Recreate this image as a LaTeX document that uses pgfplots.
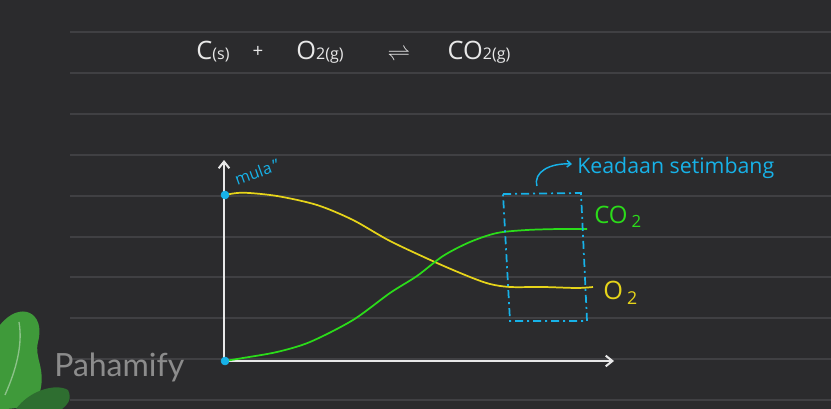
\documentclass[border=0pt]{standalone}
\usepackage{pgfplots}
\pgfplotsset{compat=1.18}
\usetikzlibrary{arrows.meta}
\usepackage{fontspec}
\setmainfont{Open Sans}
\newfontfamily\logofont{Lato}
\definecolor{bg}{HTML}{2B2B2D}
\definecolor{rule}{HTML}{404043}
\definecolor{cy}{HTML}{17B2E8}
\definecolor{yl}{HTML}{E6D41A}
\definecolor{gr}{HTML}{2BDC1A}
\definecolor{wh}{HTML}{E8E8E8}
\definecolor{logo}{HTML}{8C8C8C}
\definecolor{leafA}{HTML}{3F9A3A}
\definecolor{leafB}{HTML}{2E6E30}
\begin{document}
\begin{tikzpicture}
\begin{axis}[
  scale only axis, width=623.25pt, height=306.75pt,
  xmin=0, xmax=831, ymin=0, ymax=409, y dir=reverse,
  axis line style={draw=none}, ticks=none,
  axis background/.style={fill=bg},
]
% ruled lines
\foreach \yy in {32,73,114,155,196,237,277,318,359,400}{
  \edef\tmp{\noexpand\draw[rule, line width=1.2pt] (axis cs:70,\yy) -- (axis cs:831,\yy);}\tmp
}
% leaves
\fill[leafA] (axis cs:0,325) .. controls (axis cs:20,300) and (axis cs:46,312) .. (axis cs:38,342)
  .. controls (axis cs:34,358) and (axis cs:46,368) .. (axis cs:40,392)
  .. controls (axis cs:32,409) and (axis cs:10,409) .. (axis cs:0,409) -- cycle;
\fill[leafB] (axis cs:16,409) .. controls (axis cs:30,390) and (axis cs:56,383) .. (axis cs:68,390)
  .. controls (axis cs:73,400) and (axis cs:66,406) .. (axis cs:62,409) -- cycle;
\draw[leafA!60!white, line width=1pt] (axis cs:19,322) .. controls (axis cs:23,345) and (axis cs:16,370) .. (axis cs:5,395);
% logo
\node[logo, anchor=west, inner sep=0pt] at (axis cs:54,367) {\logofont\fontsize{24}{26}\selectfont Pahamify};
% title
\node[wh] at (axis cs:213,52) {\fontsize{19}{22}\selectfont C\fontsize{12}{14}\selectfont(s)};
\node[wh] at (axis cs:258,52) {\fontsize{14}{16}\selectfont +};
\node[wh] at (axis cs:320,52) {\fontsize{19}{22}\selectfont O\fontsize{12}{14}\selectfont 2(g)};
\node[wh] at (axis cs:399,55) {\fontsize{16}{18}\selectfont$\rightleftharpoons$};
\node[wh] at (axis cs:479,52) {\fontsize{19}{22}\selectfont CO\fontsize{12}{14}\selectfont 2(g)};
% axes
\draw[wh, line width=1.5pt, -{Straight Barb[length=5pt,width=8pt]}] (axis cs:224,361) -- (axis cs:224,160);
\draw[wh, line width=1.5pt, -{Straight Barb[length=5pt,width=8pt]}] (axis cs:224,361) -- (axis cs:614,361);
% curves
\addplot[yl, line width=1.3pt, smooth, tension=0.5] coordinates {
(225,195) (243,192.7) (277,196) (317,205) (353,220) (390,241) (437,263) (470,277) (490,284) (510,287) (543,287) (577,288) (593,287)};
\addplot[gr, line width=1.3pt, smooth, tension=0.5] coordinates {
(225,361) (243,358) (277,352) (310,342) (353,320) (390,293) (417,276) (443,256) (470,242) (497,233) (527,230) (560,229) (587,229)};
\addplot[only marks, mark=*, mark size=3pt, cy] coordinates {(225,195) (225,361)};
% dashed box
\draw[cy, line width=1.3pt, dash pattern=on 6pt off 3pt on 1.5pt off 3pt] (axis cs:503,194) -- (axis cs:581,193) -- (axis cs:587,321) -- (axis cs:510,321) -- cycle;
% labels
\draw[cy, line width=1.1pt, -{Straight Barb[length=3pt,width=5pt]}] (axis cs:537,186) .. controls (axis cs:533,172) and (axis cs:550,163) .. (axis cs:572,164);
\node[cy, anchor=west, inner sep=0pt] at (axis cs:577,168) {\fontsize{16}{18}\selectfont Keadaan setimbang};
\node[gr, anchor=west, inner sep=0pt] at (axis cs:594,217) {\fontsize{18}{20}\selectfont CO\,\textsubscript{2}};
\node[yl, anchor=west, inner sep=0pt] at (axis cs:603,293) {\fontsize{19}{21}\selectfont O\,\textsubscript{2}};
\node[cy, rotate=20, inner sep=0pt] at (axis cs:257,172) {\fontsize{12}{14}\selectfont mula\,''};
\end{axis}
\end{tikzpicture}
\end{document}
